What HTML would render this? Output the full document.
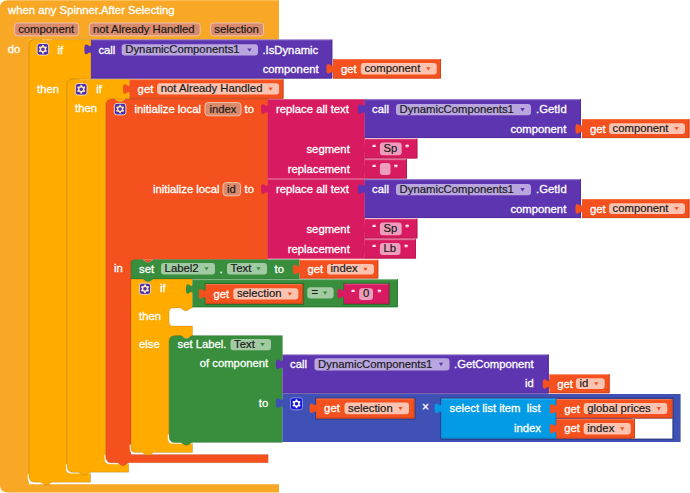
<!DOCTYPE html>
<html><head><meta charset="utf-8"><style>
html,body{margin:0;padding:0;background:#fff;width:690px;height:493px;overflow:hidden}
svg{display:block}
text{font-family:"Liberation Sans", sans-serif}
</style></head><body>
<svg width="690" height="493" viewBox="0 0 690 493" font-family='"Liberation Sans", sans-serif'><path d="M0,8 Q0,0.3 8,0.3 H279 V39.6 H29 V484.3 H279 V492.6 H8 Q0,492.6 0,485 Z" fill="#F9A825"/>
<text x="8.1" y="13.6" fill="#fff" stroke="#fff" stroke-width="0.3" font-size="11.3" text-anchor="start" font-weight="normal" xml:space="preserve">when any Spinner.After Selecting</text>
<rect x="14.6" y="23" width="64.10000000000001" height="12.799999999999997" rx="3" fill="#D98B6D" stroke="#ECC0B4" stroke-width="1"/>
<text x="18.2" y="32.699999999999996" fill="#1a1a1a" stroke="#1a1a1a" stroke-width="0.2" font-size="11.3" text-anchor="start" font-weight="normal" xml:space="preserve">component</text>
<rect x="89.3" y="23" width="110.89999999999999" height="12.799999999999997" rx="3" fill="#D98B6D" stroke="#ECC0B4" stroke-width="1"/>
<text x="92.89999999999999" y="32.699999999999996" fill="#1a1a1a" stroke="#1a1a1a" stroke-width="0.2" font-size="11.3" text-anchor="start" font-weight="normal" xml:space="preserve">not Already Handled</text>
<rect x="210.7" y="23" width="52.80000000000001" height="12.799999999999997" rx="3" fill="#D98B6D" stroke="#ECC0B4" stroke-width="1"/>
<text x="214.29999999999998" y="32.699999999999996" fill="#1a1a1a" stroke="#1a1a1a" stroke-width="0.2" font-size="11.3" text-anchor="start" font-weight="normal" xml:space="preserve">selection</text>
<text x="7.7" y="52.6" fill="#fff" stroke="#fff" stroke-width="0.3" font-size="11.3" text-anchor="start" font-weight="normal" xml:space="preserve">do</text>
<path d="M41.0,39.0 L41.5,39.0 l4.3,3.4 2.6,0 4.3,-3.4 h0.5 V39.6 H41.0 Z" fill="#F9A825"/>
<rect x="28.7" y="39.300000000000004" width="7" height="7" fill="#F9A825"/>
<path d="M28.4,474.2 V478.2 Q28.4,482.9 33,482.9 H90.6" fill="none" stroke="#fff" stroke-width="1.4" opacity="0.9"/>
<path d="M35,39.6 L41.5,39.6 l4.3,2.8 2.6,0 4.3,-2.8 H91 V79.2 H67.2 V472.2 H90.6 V482.2 L51.900000000000006,482.2 l-4.3,2.8 -2.6,0 -4.3,-2.8 H35 Q29,482.2 29,476.2 V45.6 Q29,39.6 35,39.6 Z" fill="#FFAB00" stroke="#000" stroke-opacity="0.16" stroke-width="0.8"/>
<rect x="37.1" y="43.5" width="11.6" height="11.6" rx="2.6" fill="#4A2FB0" stroke="#FFE3C0" stroke-width="0.9"/>
<circle cx="42.900000000000006" cy="49.300000000000004" r="2.5" fill="none" stroke="#FBE7B5" stroke-width="1.4"/>
<circle cx="42.90" cy="45.80" r="0.95" fill="#FBE7B5"/>
<circle cx="45.93" cy="47.55" r="0.95" fill="#FBE7B5"/>
<circle cx="45.93" cy="51.05" r="0.95" fill="#FBE7B5"/>
<circle cx="42.90" cy="52.80" r="0.95" fill="#FBE7B5"/>
<circle cx="39.87" cy="51.05" r="0.95" fill="#FBE7B5"/>
<circle cx="39.87" cy="47.55" r="0.95" fill="#FBE7B5"/>
<text x="57.6" y="53.6" fill="#fff" stroke="#fff" stroke-width="0.3" font-size="11.3" text-anchor="start" font-weight="normal" xml:space="preserve">if</text>
<text x="37" y="92.6" fill="#fff" stroke="#fff" stroke-width="0.3" font-size="11.3" text-anchor="start" font-weight="normal" xml:space="preserve">then</text>
<path d="M78.7,78.60000000000001 L79.2,78.60000000000001 l4.3,3.4 2.6,0 4.3,-3.4 h0.5 V79.2 H78.7 Z" fill="#FFAB00"/>
<rect x="66.9" y="78.9" width="7" height="7" fill="#FFAB00"/>
<path d="M66.60000000000001,464.2 V468.2 Q66.60000000000001,472.9 71.2,472.9 H90.6" fill="none" stroke="#fff" stroke-width="1.4" opacity="0.9"/>
<path d="M91,39.6 H332.3 V78.6 H91 L91,54.8 c0,-7.2 -6.6,5.8 -6.6,-5.4 s6.6,1.8 6.6,-5.4 V39.6 Z" fill="#5E35B1"/>
<path d="M331.8,39.6 V78.1 H91" fill="none" stroke="#4d2b91" stroke-width="1" opacity="0.8"/>
<path d="M91.5,40.1 H331.3" fill="none" stroke="#fff" stroke-width="0.8" opacity="0.25"/>
<text x="98.4" y="53.5" fill="#fff" stroke="#fff" stroke-width="0.3" font-size="11.3" text-anchor="start" font-weight="normal" xml:space="preserve">call</text>
<rect x="121.7" y="44.2" width="136.3" height="11.399999999999999" rx="3" fill="#B9A6DF"/>
<text x="125.3" y="53.2" fill="#1a1a1a" stroke="#1a1a1a" stroke-width="0.2" font-size="11.3" text-anchor="start" font-weight="normal" xml:space="preserve">DynamicComponents1</text>
<path d="M247.3,48.400000000000006 h4.4 l-2.2,3.3 z" fill="#5E35B1"/>
<text x="262.4" y="53.5" fill="#fff" stroke="#fff" stroke-width="0.3" font-size="11.3" text-anchor="start" font-weight="normal" xml:space="preserve">.IsDynamic</text>
<text x="318.6" y="73" fill="#fff" stroke="#fff" stroke-width="0.3" font-size="11.3" text-anchor="end" font-weight="normal" xml:space="preserve">component</text>
<path d="M333,59 H441 V78.6 H333 L333,74.2 c0,-7.2 -6.6,5.8 -6.6,-5.4 s6.6,1.8 6.6,-5.4 V59 Z" fill="#F4511E"/>
<path d="M440.5,59 V78.1 H333" fill="none" stroke="#c84218" stroke-width="1" opacity="0.8"/>
<path d="M333.5,59.5 H440" fill="none" stroke="#fff" stroke-width="0.8" opacity="0.25"/>
<text x="341" y="72.5" fill="#fff" stroke="#fff" stroke-width="0.3" font-size="11.3" text-anchor="start" font-weight="normal" xml:space="preserve">get</text>
<rect x="360.8" y="63.1" width="76.0" height="11.29999999999999" rx="3" fill="#FCC3B0"/>
<text x="364.40000000000003" y="72.05" fill="#1a1a1a" stroke="#1a1a1a" stroke-width="0.2" font-size="11.3" text-anchor="start" font-weight="normal" xml:space="preserve">component</text>
<path d="M426.1,67.25 h4.4 l-2.2,3.3 z" fill="#F4511E"/>
<path d="M73.2,79.2 L79.2,79.2 l4.3,2.8 2.6,0 4.3,-2.8 H129.6 V99 H105.8 V462.8 H128.7 V472.2 L89.9,472.2 l-4.3,2.8 -2.6,0 -4.3,-2.8 H73.2 Q67.2,472.2 67.2,466.2 V85.2 Q67.2,79.2 73.2,79.2 Z" fill="#FFAB00" stroke="#000" stroke-opacity="0.16" stroke-width="0.8"/>
<rect x="75.4" y="83.5" width="11.6" height="11.6" rx="2.6" fill="#4A2FB0" stroke="#FFE3C0" stroke-width="0.9"/>
<circle cx="81.2" cy="89.3" r="2.5" fill="none" stroke="#FBE7B5" stroke-width="1.4"/>
<circle cx="81.20" cy="85.80" r="0.95" fill="#FBE7B5"/>
<circle cx="84.23" cy="87.55" r="0.95" fill="#FBE7B5"/>
<circle cx="84.23" cy="91.05" r="0.95" fill="#FBE7B5"/>
<circle cx="81.20" cy="92.80" r="0.95" fill="#FBE7B5"/>
<circle cx="78.17" cy="91.05" r="0.95" fill="#FBE7B5"/>
<circle cx="78.17" cy="87.55" r="0.95" fill="#FBE7B5"/>
<text x="96.2" y="92.8" fill="#fff" stroke="#fff" stroke-width="0.3" font-size="11.3" text-anchor="start" font-weight="normal" xml:space="preserve">if</text>
<text x="75.1" y="112.4" fill="#fff" stroke="#fff" stroke-width="0.3" font-size="11.3" text-anchor="start" font-weight="normal" xml:space="preserve">then</text>
<path d="M114.0,98.4 L114.5,98.4 l4.3,3.4 2.6,0 4.3,-3.4 h0.5 V99 H114.0 Z" fill="#FFAB00"/>
<rect x="105.5" y="98.7" width="7" height="7" fill="#FFAB00"/>
<path d="M105.2,454.8 V458.8 Q105.2,463.5 109.8,463.5 H128.7" fill="none" stroke="#fff" stroke-width="1.4" opacity="0.9"/>
<path d="M129.6,79.2 H283.5 V98.8 H129.6 L129.6,94.4 c0,-7.2 -6.6,5.8 -6.6,-5.4 s6.6,1.8 6.6,-5.4 V79.2 Z" fill="#F4511E"/>
<path d="M283.0,79.2 V98.3 H129.6" fill="none" stroke="#c84218" stroke-width="1" opacity="0.8"/>
<path d="M130.1,79.7 H282.5" fill="none" stroke="#fff" stroke-width="0.8" opacity="0.25"/>
<text x="137.6" y="92.7" fill="#fff" stroke="#fff" stroke-width="0.3" font-size="11.3" text-anchor="start" font-weight="normal" xml:space="preserve">get</text>
<rect x="157.1" y="83.3" width="122.00000000000003" height="11.299999999999997" rx="3" fill="#FCC3B0"/>
<text x="160.7" y="92.24999999999999" fill="#1a1a1a" stroke="#1a1a1a" stroke-width="0.2" font-size="11.3" text-anchor="start" font-weight="normal" xml:space="preserve">not Already Handled</text>
<path d="M268.40000000000003,87.44999999999999 h4.4 l-2.2,3.3 z" fill="#F4511E"/>
<path d="M111.8,99 L114.5,99 l4.3,2.8 2.6,0 4.3,-2.8 H267.8 V259.5 H131 V454.5 H268.2 V462.8 L128.7,462.8 l-4.3,2.8 -2.6,0 -4.3,-2.8 H111.8 Q105.8,462.8 105.8,456.8 V105 Q105.8,99 111.8,99 Z" fill="#F4511E" stroke="#000" stroke-opacity="0.12" stroke-width="0.8"/>
<rect x="114.30000000000001" y="103.30000000000001" width="11.6" height="11.6" rx="2.6" fill="#4A2FB0" stroke="#FFE3C0" stroke-width="0.9"/>
<circle cx="120.10000000000001" cy="109.10000000000001" r="2.5" fill="none" stroke="#FBE7B5" stroke-width="1.4"/>
<circle cx="120.10" cy="105.60" r="0.95" fill="#FBE7B5"/>
<circle cx="123.13" cy="107.35" r="0.95" fill="#FBE7B5"/>
<circle cx="123.13" cy="110.85" r="0.95" fill="#FBE7B5"/>
<circle cx="120.10" cy="112.60" r="0.95" fill="#FBE7B5"/>
<circle cx="117.07" cy="110.85" r="0.95" fill="#FBE7B5"/>
<circle cx="117.07" cy="107.35" r="0.95" fill="#FBE7B5"/>
<text x="134.5" y="113.0" fill="#fff" stroke="#fff" stroke-width="0.3" font-size="11.3" text-anchor="start" font-weight="normal" xml:space="preserve">initialize local</text>
<rect x="205" y="102.6" width="36" height="13.200000000000003" rx="3" fill="#D98A6C" stroke="#F2BFA5" stroke-width="1"/>
<text x="209.4" y="112.49999999999999" fill="#1a1a1a" stroke="#1a1a1a" stroke-width="0.2" font-size="11.3" text-anchor="start" font-weight="normal" xml:space="preserve">index</text>
<text x="244.5" y="113.0" fill="#fff" stroke="#fff" stroke-width="0.3" font-size="11.3" text-anchor="start" font-weight="normal" xml:space="preserve">to</text>
<text x="153" y="193.0" fill="#fff" stroke="#fff" stroke-width="0.3" font-size="11.3" text-anchor="start" font-weight="normal" xml:space="preserve">initialize local</text>
<rect x="223" y="182.6" width="17.5" height="13.200000000000017" rx="3" fill="#D98A6C" stroke="#F2BFA5" stroke-width="1"/>
<text x="227" y="192.5" fill="#1a1a1a" stroke="#1a1a1a" stroke-width="0.2" font-size="11.3" text-anchor="start" font-weight="normal" xml:space="preserve">id</text>
<text x="244.5" y="193.0" fill="#fff" stroke="#fff" stroke-width="0.3" font-size="11.3" text-anchor="start" font-weight="normal" xml:space="preserve">to</text>
<text x="114" y="271.6" fill="#fff" stroke="#fff" stroke-width="0.3" font-size="11.3" text-anchor="start" font-weight="normal" xml:space="preserve">in</text>
<path d="M142.0,258.9 L142.5,258.9 l4.3,3.4 2.6,0 4.3,-3.4 h0.5 V259.5 H142.0 Z" fill="#F4511E"/>
<rect x="130.7" y="259.2" width="7" height="7" fill="#F4511E"/>
<path d="M130.4,444.5 V448.5 Q130.4,453.2 135,453.2 H268.2" fill="none" stroke="#fff" stroke-width="1.4" opacity="0.9"/>
<path d="M267.6,99.3 H364.8 V178.8 H267.6 L267.6,114.5 c0,-7.2 -6.6,5.8 -6.6,-5.4 s6.6,1.8 6.6,-5.4 V99.3 Z" fill="#D81B60"/>
<text x="276" y="113.1" fill="#fff" stroke="#fff" stroke-width="0.3" font-size="11.3" text-anchor="start" font-weight="normal" xml:space="preserve">replace all text</text>
<text x="349.8" y="153.1" fill="#fff" stroke="#fff" stroke-width="0.3" font-size="11.3" text-anchor="end" font-weight="normal" xml:space="preserve">segment</text>
<text x="349.8" y="173.1" fill="#fff" stroke="#fff" stroke-width="0.3" font-size="11.3" text-anchor="end" font-weight="normal" xml:space="preserve">replacement</text>
<path d="M364.6,99.3 H581 V138.1 H364.6 L364.6,114.5 c0,-7.2 -6.6,5.8 -6.6,-5.4 s6.6,1.8 6.6,-5.4 V99.3 Z" fill="#5E35B1"/>
<path d="M580.5,99.3 V137.6 H364.6" fill="none" stroke="#4d2b91" stroke-width="1" opacity="0.8"/>
<path d="M365.1,99.8 H580" fill="none" stroke="#fff" stroke-width="0.8" opacity="0.25"/>
<text x="372" y="113.1" fill="#fff" stroke="#fff" stroke-width="0.3" font-size="11.3" text-anchor="start" font-weight="normal" xml:space="preserve">call</text>
<rect x="396" y="103.89999999999999" width="135" height="11.400000000000006" rx="3" fill="#B9A6DF"/>
<text x="399.6" y="112.89999999999999" fill="#1a1a1a" stroke="#1a1a1a" stroke-width="0.2" font-size="11.3" text-anchor="start" font-weight="normal" xml:space="preserve">DynamicComponents1</text>
<path d="M520.3,108.1 h4.4 l-2.2,3.3 z" fill="#5E35B1"/>
<text x="536" y="113.1" fill="#fff" stroke="#fff" stroke-width="0.3" font-size="11.3" text-anchor="start" font-weight="normal" xml:space="preserve">.GetId</text>
<text x="566.3" y="132.9" fill="#fff" stroke="#fff" stroke-width="0.3" font-size="11.3" text-anchor="end" font-weight="normal" xml:space="preserve">component</text>
<path d="M582,119.1 H689.5 V138.1 H582 L582,134.29999999999998 c0,-7.2 -6.6,5.8 -6.6,-5.4 s6.6,1.8 6.6,-5.4 V119.1 Z" fill="#F4511E"/>
<path d="M689.0,119.1 V137.6 H582" fill="none" stroke="#c84218" stroke-width="1" opacity="0.8"/>
<path d="M582.5,119.6 H688.5" fill="none" stroke="#fff" stroke-width="0.8" opacity="0.25"/>
<text x="590" y="132.6" fill="#fff" stroke="#fff" stroke-width="0.3" font-size="11.3" text-anchor="start" font-weight="normal" xml:space="preserve">get</text>
<rect x="609" y="123.19999999999999" width="76" height="10.700000000000017" rx="3" fill="#FCC3B0"/>
<text x="612.6" y="131.85000000000002" fill="#1a1a1a" stroke="#1a1a1a" stroke-width="0.2" font-size="11.3" text-anchor="start" font-weight="normal" xml:space="preserve">component</text>
<path d="M674.3,127.05000000000001 h4.4 l-2.2,3.3 z" fill="#F4511E"/>
<path d="M364.6,138.8 H417.4 V158.5 H364.6 L364.6,154.0 c0,-7.2 -6.6,5.8 -6.6,-5.4 s6.6,1.8 6.6,-5.4 V138.8 Z" fill="#D81B60"/>
<path d="M416.9,138.8 V158.0 H364.6" fill="none" stroke="#b1164e" stroke-width="1" opacity="0.8"/>
<path d="M365.1,139.3 H416.4" fill="none" stroke="#fff" stroke-width="0.8" opacity="0.25"/>
<text x="372.3" y="149.6" fill="#fff" stroke="#fff" stroke-width="0.3" font-size="7.5" text-anchor="start" font-weight="bold" xml:space="preserve">“</text>
<rect x="379.9" y="142.6" width="21.80000000000001" height="12.700000000000017" rx="3" fill="#EF9DBC"/>
<text x="383.5" y="152.25" fill="#1a1a1a" stroke="#1a1a1a" stroke-width="0.2" font-size="11.3" text-anchor="start" font-weight="normal" xml:space="preserve">Sp</text>
<text x="405.2" y="149.6" fill="#fff" stroke="#fff" stroke-width="0.3" font-size="7.5" text-anchor="start" font-weight="bold" xml:space="preserve">”</text>
<path d="M364.6,159.3 H407 V178.6 H364.6 L364.6,174.5 c0,-7.2 -6.6,5.8 -6.6,-5.4 s6.6,1.8 6.6,-5.4 V159.3 Z" fill="#D81B60"/>
<path d="M406.5,159.3 V178.1 H364.6" fill="none" stroke="#b1164e" stroke-width="1" opacity="0.8"/>
<path d="M365.1,159.8 H406" fill="none" stroke="#fff" stroke-width="0.8" opacity="0.25"/>
<text x="372.3" y="169.6" fill="#fff" stroke="#fff" stroke-width="0.3" font-size="7.5" text-anchor="start" font-weight="bold" xml:space="preserve">“</text>
<rect x="379.9" y="162.9" width="10.600000000000023" height="12.099999999999994" rx="3" fill="#EF9DBC"/>
<text x="394" y="169.6" fill="#fff" stroke="#fff" stroke-width="0.3" font-size="7.5" text-anchor="start" font-weight="bold" xml:space="preserve">”</text>
<path d="M267.6,179.3 H364.8 V258.8 H267.6 L267.6,194.5 c0,-7.2 -6.6,5.8 -6.6,-5.4 s6.6,1.8 6.6,-5.4 V179.3 Z" fill="#D81B60"/>
<text x="276" y="193.10000000000002" fill="#fff" stroke="#fff" stroke-width="0.3" font-size="11.3" text-anchor="start" font-weight="normal" xml:space="preserve">replace all text</text>
<text x="349.8" y="233.10000000000002" fill="#fff" stroke="#fff" stroke-width="0.3" font-size="11.3" text-anchor="end" font-weight="normal" xml:space="preserve">segment</text>
<text x="349.8" y="253.10000000000002" fill="#fff" stroke="#fff" stroke-width="0.3" font-size="11.3" text-anchor="end" font-weight="normal" xml:space="preserve">replacement</text>
<path d="M364.6,179.3 H581 V218.10000000000002 H364.6 L364.6,194.5 c0,-7.2 -6.6,5.8 -6.6,-5.4 s6.6,1.8 6.6,-5.4 V179.3 Z" fill="#5E35B1"/>
<path d="M580.5,179.3 V217.60000000000002 H364.6" fill="none" stroke="#4d2b91" stroke-width="1" opacity="0.8"/>
<path d="M365.1,179.8 H580" fill="none" stroke="#fff" stroke-width="0.8" opacity="0.25"/>
<text x="372" y="193.10000000000002" fill="#fff" stroke="#fff" stroke-width="0.3" font-size="11.3" text-anchor="start" font-weight="normal" xml:space="preserve">call</text>
<rect x="396" y="183.9" width="135" height="11.400000000000006" rx="3" fill="#B9A6DF"/>
<text x="399.6" y="192.90000000000003" fill="#1a1a1a" stroke="#1a1a1a" stroke-width="0.2" font-size="11.3" text-anchor="start" font-weight="normal" xml:space="preserve">DynamicComponents1</text>
<path d="M520.3,188.10000000000002 h4.4 l-2.2,3.3 z" fill="#5E35B1"/>
<text x="536" y="193.10000000000002" fill="#fff" stroke="#fff" stroke-width="0.3" font-size="11.3" text-anchor="start" font-weight="normal" xml:space="preserve">.GetId</text>
<text x="566.3" y="212.9" fill="#fff" stroke="#fff" stroke-width="0.3" font-size="11.3" text-anchor="end" font-weight="normal" xml:space="preserve">component</text>
<path d="M582,199.10000000000002 H689.5 V218.10000000000002 H582 L582,214.3 c0,-7.2 -6.6,5.8 -6.6,-5.4 s6.6,1.8 6.6,-5.4 V199.10000000000002 Z" fill="#F4511E"/>
<path d="M689.0,199.10000000000002 V217.60000000000002 H582" fill="none" stroke="#c84218" stroke-width="1" opacity="0.8"/>
<path d="M582.5,199.60000000000002 H688.5" fill="none" stroke="#fff" stroke-width="0.8" opacity="0.25"/>
<text x="590" y="212.60000000000002" fill="#fff" stroke="#fff" stroke-width="0.3" font-size="11.3" text-anchor="start" font-weight="normal" xml:space="preserve">get</text>
<rect x="609" y="203.20000000000002" width="76" height="10.700000000000017" rx="3" fill="#FCC3B0"/>
<text x="612.6" y="211.85000000000002" fill="#1a1a1a" stroke="#1a1a1a" stroke-width="0.2" font-size="11.3" text-anchor="start" font-weight="normal" xml:space="preserve">component</text>
<path d="M674.3,207.05 h4.4 l-2.2,3.3 z" fill="#F4511E"/>
<path d="M364.6,218.8 H417.4 V238.5 H364.6 L364.6,234.0 c0,-7.2 -6.6,5.8 -6.6,-5.4 s6.6,1.8 6.6,-5.4 V218.8 Z" fill="#D81B60"/>
<path d="M416.9,218.8 V238.0 H364.6" fill="none" stroke="#b1164e" stroke-width="1" opacity="0.8"/>
<path d="M365.1,219.3 H416.4" fill="none" stroke="#fff" stroke-width="0.8" opacity="0.25"/>
<text x="372.3" y="229.60000000000002" fill="#fff" stroke="#fff" stroke-width="0.3" font-size="7.5" text-anchor="start" font-weight="bold" xml:space="preserve">“</text>
<rect x="379.9" y="222.60000000000002" width="21.80000000000001" height="12.699999999999989" rx="3" fill="#EF9DBC"/>
<text x="383.5" y="232.25000000000003" fill="#1a1a1a" stroke="#1a1a1a" stroke-width="0.2" font-size="11.3" text-anchor="start" font-weight="normal" xml:space="preserve">Sp</text>
<text x="405.2" y="229.60000000000002" fill="#fff" stroke="#fff" stroke-width="0.3" font-size="7.5" text-anchor="start" font-weight="bold" xml:space="preserve">”</text>
<path d="M364.6,239.3 H416 V258.6 H364.6 L364.6,254.5 c0,-7.2 -6.6,5.8 -6.6,-5.4 s6.6,1.8 6.6,-5.4 V239.3 Z" fill="#D81B60"/>
<path d="M415.5,239.3 V258.1 H364.6" fill="none" stroke="#b1164e" stroke-width="1" opacity="0.8"/>
<path d="M365.1,239.8 H415" fill="none" stroke="#fff" stroke-width="0.8" opacity="0.25"/>
<text x="372.3" y="249.60000000000002" fill="#fff" stroke="#fff" stroke-width="0.3" font-size="7.5" text-anchor="start" font-weight="bold" xml:space="preserve">“</text>
<rect x="379.9" y="242.9" width="20.600000000000023" height="12.099999999999994" rx="3" fill="#EF9DBC"/>
<text x="383.5" y="252.25" fill="#1a1a1a" stroke="#1a1a1a" stroke-width="0.2" font-size="11.3" text-anchor="start" font-weight="normal" xml:space="preserve">Lb</text>
<text x="404.2" y="249.60000000000002" fill="#fff" stroke="#fff" stroke-width="0.3" font-size="7.5" text-anchor="start" font-weight="bold" xml:space="preserve">”</text>
<path d="M135,259.5 L142.5,259.5 l4.3,2.8 2.6,0 4.3,-2.8 H299.5 V279 L153.7,279 l-4.3,2.8 -2.6,0 -4.3,-2.8 H131 V263.5 Q131,259.5 135,259.5 Z" fill="#388E3C" stroke="#000" stroke-opacity="0.12" stroke-width="0.8"/>
<text x="139" y="273.2" fill="#fff" stroke="#fff" stroke-width="0.3" font-size="11.3" text-anchor="start" font-weight="normal" xml:space="preserve">set</text>
<rect x="161" y="263" width="54" height="11.600000000000023" rx="3" fill="#A2CBA4"/>
<text x="164.6" y="272.1" fill="#1a1a1a" stroke="#1a1a1a" stroke-width="0.2" font-size="11.3" text-anchor="start" font-weight="normal" xml:space="preserve">Label2</text>
<path d="M204.3,267.3 h4.4 l-2.2,3.3 z" fill="#388E3C"/>
<text x="219.5" y="273.2" fill="#fff" stroke="#fff" stroke-width="0.3" font-size="11.3" text-anchor="start" font-weight="normal" xml:space="preserve">.</text>
<rect x="227" y="263" width="40" height="11.600000000000023" rx="3" fill="#A2CBA4"/>
<text x="230.6" y="272.1" fill="#1a1a1a" stroke="#1a1a1a" stroke-width="0.2" font-size="11.3" text-anchor="start" font-weight="normal" xml:space="preserve">Text</text>
<path d="M256.3,267.3 h4.4 l-2.2,3.3 z" fill="#388E3C"/>
<text x="274.5" y="273.2" fill="#fff" stroke="#fff" stroke-width="0.3" font-size="11.3" text-anchor="start" font-weight="normal" xml:space="preserve">to</text>
<path d="M299.5,259.8 H378.3 V278.6 H299.5 L299.5,275.0 c0,-7.2 -6.6,5.8 -6.6,-5.4 s6.6,1.8 6.6,-5.4 V259.8 Z" fill="#F4511E"/>
<path d="M377.8,259.8 V278.1 H299.5" fill="none" stroke="#c84218" stroke-width="1" opacity="0.8"/>
<path d="M300.0,260.3 H377.3" fill="none" stroke="#fff" stroke-width="0.8" opacity="0.25"/>
<text x="307.5" y="273.3" fill="#fff" stroke="#fff" stroke-width="0.3" font-size="11.3" text-anchor="start" font-weight="normal" xml:space="preserve">get</text>
<rect x="327" y="263.90000000000003" width="47" height="10.5" rx="3" fill="#FCC3B0"/>
<text x="330.6" y="272.45000000000005" fill="#1a1a1a" stroke="#1a1a1a" stroke-width="0.2" font-size="11.3" text-anchor="start" font-weight="normal" xml:space="preserve">index</text>
<path d="M363.3,267.65000000000003 h4.4 l-2.2,3.3 z" fill="#F4511E"/>
<path d="M131,279 L142.5,279 l4.3,2.8 2.6,0 4.3,-2.8 H192.5 V308 H191.5 l-4.3,2.8 -2.6,0 -4.3,-2.8 H173.1 Q169.1,308 169.1,312 V322 Q169.1,326 173.1,326 H192.5 V337 H169.1 V442.5 H192.5 V452.5 L153.7,452.5 l-4.3,2.8 -2.6,0 -4.3,-2.8 H135 Q131,452.5 131,448.5 Z" fill="#FFAB00" stroke="#000" stroke-opacity="0.16" stroke-width="0.8"/>
<rect x="139.4" y="283.2" width="11.2" height="11.2" rx="2.6" fill="#4A2FB0" stroke="#FFE3C0" stroke-width="0.9"/>
<circle cx="145.0" cy="288.8" r="2.5" fill="none" stroke="#FBE7B5" stroke-width="1.4"/>
<circle cx="145.00" cy="285.30" r="0.95" fill="#FBE7B5"/>
<circle cx="148.03" cy="287.05" r="0.95" fill="#FBE7B5"/>
<circle cx="148.03" cy="290.55" r="0.95" fill="#FBE7B5"/>
<circle cx="145.00" cy="292.30" r="0.95" fill="#FBE7B5"/>
<circle cx="141.97" cy="290.55" r="0.95" fill="#FBE7B5"/>
<circle cx="141.97" cy="287.05" r="0.95" fill="#FBE7B5"/>
<text x="160" y="291.6" fill="#fff" stroke="#fff" stroke-width="0.3" font-size="11.3" text-anchor="start" font-weight="normal" xml:space="preserve">if</text>
<text x="139" y="320.2" fill="#fff" stroke="#fff" stroke-width="0.3" font-size="11.3" text-anchor="start" font-weight="normal" xml:space="preserve">then</text>
<text x="139" y="348.2" fill="#fff" stroke="#fff" stroke-width="0.3" font-size="11.3" text-anchor="start" font-weight="normal" xml:space="preserve">else</text>
<path d="M180.3,335.0 L180.8,335.0 l4.3,3.4 2.6,0 4.3,-3.4 h0.5 V335.6 H180.3 Z" fill="#FFAB00"/>
<rect x="168.79999999999998" y="335.3" width="7" height="7" fill="#FFAB00"/>
<path d="M168.5,434.4 V438.4 Q168.5,443.09999999999997 173.1,443.09999999999997 H192.5" fill="none" stroke="#fff" stroke-width="1.4" opacity="0.9"/>
<path d="M192.5,279.2 H397.9 V307.2 H192.5 L192.5,294.4 c0,-7.2 -6.6,5.8 -6.6,-5.4 s6.6,1.8 6.6,-5.4 V279.2 Z" fill="#388E3C"/>
<path d="M397.4,279.2 V306.7 H192.5" fill="none" stroke="#2d7431" stroke-width="1" opacity="0.8"/>
<path d="M193.0,279.7 H396.9" fill="none" stroke="#fff" stroke-width="0.8" opacity="0.25"/>
<rect x="205.2" y="283.6" width="98.40000000000003" height="20.69999999999999" fill="none" stroke="#2a6a2d" stroke-width="1"/>
<rect x="343.7" y="283.3" width="46.0" height="21.0" fill="none" stroke="#2a6a2d" stroke-width="1"/>
<path d="M205.5,284.1 H303.1 V303.8 H205.5 L205.5,299.3 c0,-7.2 -6.6,5.8 -6.6,-5.4 s6.6,1.8 6.6,-5.4 V284.1 Z" fill="#F4511E"/>
<path d="M302.6,284.1 V303.3 H205.5" fill="none" stroke="#c84218" stroke-width="1" opacity="0.8"/>
<path d="M206.0,284.6 H302.1" fill="none" stroke="#fff" stroke-width="0.8" opacity="0.25"/>
<text x="213.5" y="297.6" fill="#fff" stroke="#fff" stroke-width="0.3" font-size="11.3" text-anchor="start" font-weight="normal" xml:space="preserve">get</text>
<rect x="233.3" y="288.20000000000005" width="65.0" height="11.399999999999977" rx="3" fill="#FCC3B0"/>
<text x="236.9" y="297.20000000000005" fill="#1a1a1a" stroke="#1a1a1a" stroke-width="0.2" font-size="11.3" text-anchor="start" font-weight="normal" xml:space="preserve">selection</text>
<path d="M287.6,292.40000000000003 h4.4 l-2.2,3.3 z" fill="#F4511E"/>
<rect x="307.3" y="287.3" width="26.30000000000001" height="11.300000000000011" rx="3" fill="#A2CBA4"/>
<text x="311.5" y="296.25000000000006" fill="#1a1a1a" stroke="#1a1a1a" stroke-width="0.2" font-size="11.3" text-anchor="start" font-weight="normal" xml:space="preserve">=</text>
<path d="M322.90000000000003,291.45000000000005 h4.4 l-2.2,3.3 z" fill="#388E3C"/>
<path d="M344,283.8 H389.2 V303.8 H344 L344,299.0 c0,-7.2 -6.6,5.8 -6.6,-5.4 s6.6,1.8 6.6,-5.4 V283.8 Z" fill="#D81B60"/>
<path d="M388.7,283.8 V303.3 H344" fill="none" stroke="#b1164e" stroke-width="1" opacity="0.8"/>
<path d="M344.5,284.3 H388.2" fill="none" stroke="#fff" stroke-width="0.8" opacity="0.25"/>
<text x="351.3" y="294.5" fill="#fff" stroke="#fff" stroke-width="0.3" font-size="7.5" text-anchor="start" font-weight="bold" xml:space="preserve">“</text>
<rect x="359.1" y="288.2" width="13.899999999999977" height="11.800000000000011" rx="3" fill="#EF9DBC"/>
<text x="363" y="297.40000000000003" fill="#1a1a1a" stroke="#1a1a1a" stroke-width="0.2" font-size="11.3" text-anchor="start" font-weight="normal" xml:space="preserve">0</text>
<text x="377.4" y="294.5" fill="#fff" stroke="#fff" stroke-width="0.3" font-size="7.5" text-anchor="start" font-weight="bold" xml:space="preserve">”</text>
<path d="M175.1,335.6 L180.8,335.6 l4.3,2.8 2.6,0 4.3,-2.8 H282.5 V442.4 L192.0,442.4 l-4.3,2.8 -2.6,0 -4.3,-2.8 H175.1 Q169.1,442.4 169.1,436.4 V341.6 Q169.1,335.6 175.1,335.6 Z" fill="#388E3C" stroke="#000" stroke-opacity="0.12" stroke-width="0.8"/>
<text x="177.5" y="348.2" fill="#fff" stroke="#fff" stroke-width="0.3" font-size="11.3" text-anchor="start" font-weight="normal" xml:space="preserve">set Label.</text>
<rect x="230.5" y="339" width="40.5" height="11.199999999999989" rx="3" fill="#A2CBA4"/>
<text x="234.1" y="347.90000000000003" fill="#1a1a1a" stroke="#1a1a1a" stroke-width="0.2" font-size="11.3" text-anchor="start" font-weight="normal" xml:space="preserve">Text</text>
<path d="M260.3,343.1 h4.4 l-2.2,3.3 z" fill="#388E3C"/>
<text x="268.2" y="367.2" fill="#fff" stroke="#fff" stroke-width="0.3" font-size="11.3" text-anchor="end" font-weight="normal" xml:space="preserve">of component</text>
<text x="268.2" y="407.2" fill="#fff" stroke="#fff" stroke-width="0.3" font-size="11.3" text-anchor="end" font-weight="normal" xml:space="preserve">to</text>
<path d="M282.5,354.5 H548.8 V393.6 H282.5 L282.5,369.7 c0,-7.2 -6.6,5.8 -6.6,-5.4 s6.6,1.8 6.6,-5.4 V354.5 Z" fill="#5E35B1"/>
<path d="M548.3,354.5 V393.1 H282.5" fill="none" stroke="#4d2b91" stroke-width="1" opacity="0.8"/>
<path d="M283.0,355.0 H547.8" fill="none" stroke="#fff" stroke-width="0.8" opacity="0.25"/>
<text x="290" y="368.2" fill="#fff" stroke="#fff" stroke-width="0.3" font-size="11.3" text-anchor="start" font-weight="normal" xml:space="preserve">call</text>
<rect x="314.5" y="358.2" width="135.0" height="12.199999999999989" rx="3" fill="#B9A6DF"/>
<text x="318.1" y="367.59999999999997" fill="#1a1a1a" stroke="#1a1a1a" stroke-width="0.2" font-size="11.3" text-anchor="start" font-weight="normal" xml:space="preserve">DynamicComponents1</text>
<path d="M438.8,362.79999999999995 h4.4 l-2.2,3.3 z" fill="#5E35B1"/>
<text x="454" y="368.2" fill="#fff" stroke="#fff" stroke-width="0.3" font-size="11.3" text-anchor="start" font-weight="normal" xml:space="preserve">.GetComponent</text>
<text x="533.8" y="387.2" fill="#fff" stroke="#fff" stroke-width="0.3" font-size="11.3" text-anchor="end" font-weight="normal" xml:space="preserve">id</text>
<path d="M549.3,374.2 H609.7 V393.2 H549.3 L549.3,389.4 c0,-7.2 -6.6,5.8 -6.6,-5.4 s6.6,1.8 6.6,-5.4 V374.2 Z" fill="#F4511E"/>
<path d="M609.2,374.2 V392.7 H549.3" fill="none" stroke="#c84218" stroke-width="1" opacity="0.8"/>
<path d="M549.8,374.7 H608.7" fill="none" stroke="#fff" stroke-width="0.8" opacity="0.25"/>
<text x="557.3" y="387.7" fill="#fff" stroke="#fff" stroke-width="0.3" font-size="11.3" text-anchor="start" font-weight="normal" xml:space="preserve">get</text>
<rect x="575.9" y="378.3" width="28.800000000000068" height="10.699999999999989" rx="3" fill="#FCC3B0"/>
<text x="579.5" y="386.95" fill="#1a1a1a" stroke="#1a1a1a" stroke-width="0.2" font-size="11.3" text-anchor="start" font-weight="normal" xml:space="preserve">id</text>
<path d="M594.0,382.15 h4.4 l-2.2,3.3 z" fill="#F4511E"/>
<path d="M282.5,393.9 H680.6 V442.1 H282.5 L282.5,408.5 c0,-7.2 -6.6,5.8 -6.6,-5.4 s6.6,1.8 6.6,-5.4 V393.9 Z" fill="#3F51B5"/>
<rect x="632" y="418.6" width="40.6" height="20.2" fill="#fff"/>
<rect x="315.8" y="398" width="99.19999999999999" height="21" fill="none" stroke="#2c387e" stroke-width="1"/>
<rect x="440.9" y="398" width="232.20000000000005" height="41.19999999999999" fill="none" stroke="#2c387e" stroke-width="1"/>
<rect x="290.5" y="397.79999999999995" width="12.0" height="12.0" rx="2.6" fill="#1515D8" stroke="#9A9AE6" stroke-width="0.9"/>
<circle cx="296.5" cy="403.79999999999995" r="2.5" fill="none" stroke="#FFFFFF" stroke-width="1.4"/>
<circle cx="296.50" cy="400.30" r="0.95" fill="#FFFFFF"/>
<circle cx="299.53" cy="402.05" r="0.95" fill="#FFFFFF"/>
<circle cx="299.53" cy="405.55" r="0.95" fill="#FFFFFF"/>
<circle cx="296.50" cy="407.30" r="0.95" fill="#FFFFFF"/>
<circle cx="293.47" cy="405.55" r="0.95" fill="#FFFFFF"/>
<circle cx="293.47" cy="402.05" r="0.95" fill="#FFFFFF"/>
<path d="M316.1,398.5 H414.5 V418.5 H316.1 L316.1,413.7 c0,-7.2 -6.6,5.8 -6.6,-5.4 s6.6,1.8 6.6,-5.4 V398.5 Z" fill="#F4511E"/>
<path d="M414.0,398.5 V418.0 H316.1" fill="none" stroke="#c84218" stroke-width="1" opacity="0.8"/>
<path d="M316.6,399.0 H413.5" fill="none" stroke="#fff" stroke-width="0.8" opacity="0.25"/>
<text x="324.1" y="412.0" fill="#fff" stroke="#fff" stroke-width="0.3" font-size="11.3" text-anchor="start" font-weight="normal" xml:space="preserve">get</text>
<rect x="344.5" y="402.6" width="64.5" height="11.699999999999989" rx="3" fill="#FCC3B0"/>
<text x="348.1" y="411.75000000000006" fill="#1a1a1a" stroke="#1a1a1a" stroke-width="0.2" font-size="11.3" text-anchor="start" font-weight="normal" xml:space="preserve">selection</text>
<path d="M398.3,406.95000000000005 h4.4 l-2.2,3.3 z" fill="#F4511E"/>
<text x="422" y="411.2" fill="#fff" stroke="#fff" stroke-width="0.3" font-size="12" text-anchor="start" font-weight="normal" xml:space="preserve">×</text>
<path d="M441.2,398.6 H556.3 V438.5 H441.2 L441.2,413.8 c0,-7.2 -6.6,5.8 -6.6,-5.4 s6.6,1.8 6.6,-5.4 V398.6 Z" fill="#039BE5"/>
<path d="M555.8,398.6 V438.0 H441.2" fill="none" stroke="#027fbb" stroke-width="1" opacity="0.8"/>
<path d="M441.7,399.1 H555.3" fill="none" stroke="#fff" stroke-width="0.8" opacity="0.25"/>
<text x="449.6" y="412.0" fill="#fff" stroke="#fff" stroke-width="0.3" font-size="11.3" text-anchor="start" font-weight="normal" xml:space="preserve">select list item  list</text>
<text x="540.9" y="431.8" fill="#fff" stroke="#fff" stroke-width="0.3" font-size="11.3" text-anchor="end" font-weight="normal" xml:space="preserve">index</text>
<path d="M556.3,399 H672.6 V418.3 H556.3 L556.3,414.2 c0,-7.2 -6.6,5.8 -6.6,-5.4 s6.6,1.8 6.6,-5.4 V399 Z" fill="#F4511E"/>
<path d="M672.1,399 V417.8 H556.3" fill="none" stroke="#c84218" stroke-width="1" opacity="0.8"/>
<path d="M556.8,399.5 H671.6" fill="none" stroke="#fff" stroke-width="0.8" opacity="0.25"/>
<text x="564.3" y="412.5" fill="#fff" stroke="#fff" stroke-width="0.3" font-size="11.3" text-anchor="start" font-weight="normal" xml:space="preserve">get</text>
<rect x="583.7" y="403.1" width="83.59999999999991" height="11.0" rx="3" fill="#FCC3B0"/>
<text x="587.3000000000001" y="411.90000000000003" fill="#1a1a1a" stroke="#1a1a1a" stroke-width="0.2" font-size="11.3" text-anchor="start" font-weight="normal" xml:space="preserve">global prices</text>
<path d="M656.5999999999999,407.1 h4.4 l-2.2,3.3 z" fill="#F4511E"/>
<path d="M556.3,418.9 H635 V438.6 H556.3 L556.3,434.09999999999997 c0,-7.2 -6.6,5.8 -6.6,-5.4 s6.6,1.8 6.6,-5.4 V418.9 Z" fill="#F4511E"/>
<path d="M634.5,418.9 V438.1 H556.3" fill="none" stroke="#c84218" stroke-width="1" opacity="0.8"/>
<path d="M556.8,419.4 H634" fill="none" stroke="#fff" stroke-width="0.8" opacity="0.25"/>
<text x="564.3" y="432.4" fill="#fff" stroke="#fff" stroke-width="0.3" font-size="11.3" text-anchor="start" font-weight="normal" xml:space="preserve">get</text>
<rect x="583.7" y="423.0" width="47.0" height="11.400000000000034" rx="3" fill="#FCC3B0"/>
<text x="587.3000000000001" y="432.00000000000006" fill="#1a1a1a" stroke="#1a1a1a" stroke-width="0.2" font-size="11.3" text-anchor="start" font-weight="normal" xml:space="preserve">index</text>
<path d="M620.0,427.20000000000005 h4.4 l-2.2,3.3 z" fill="#F4511E"/></svg>
</body></html>
